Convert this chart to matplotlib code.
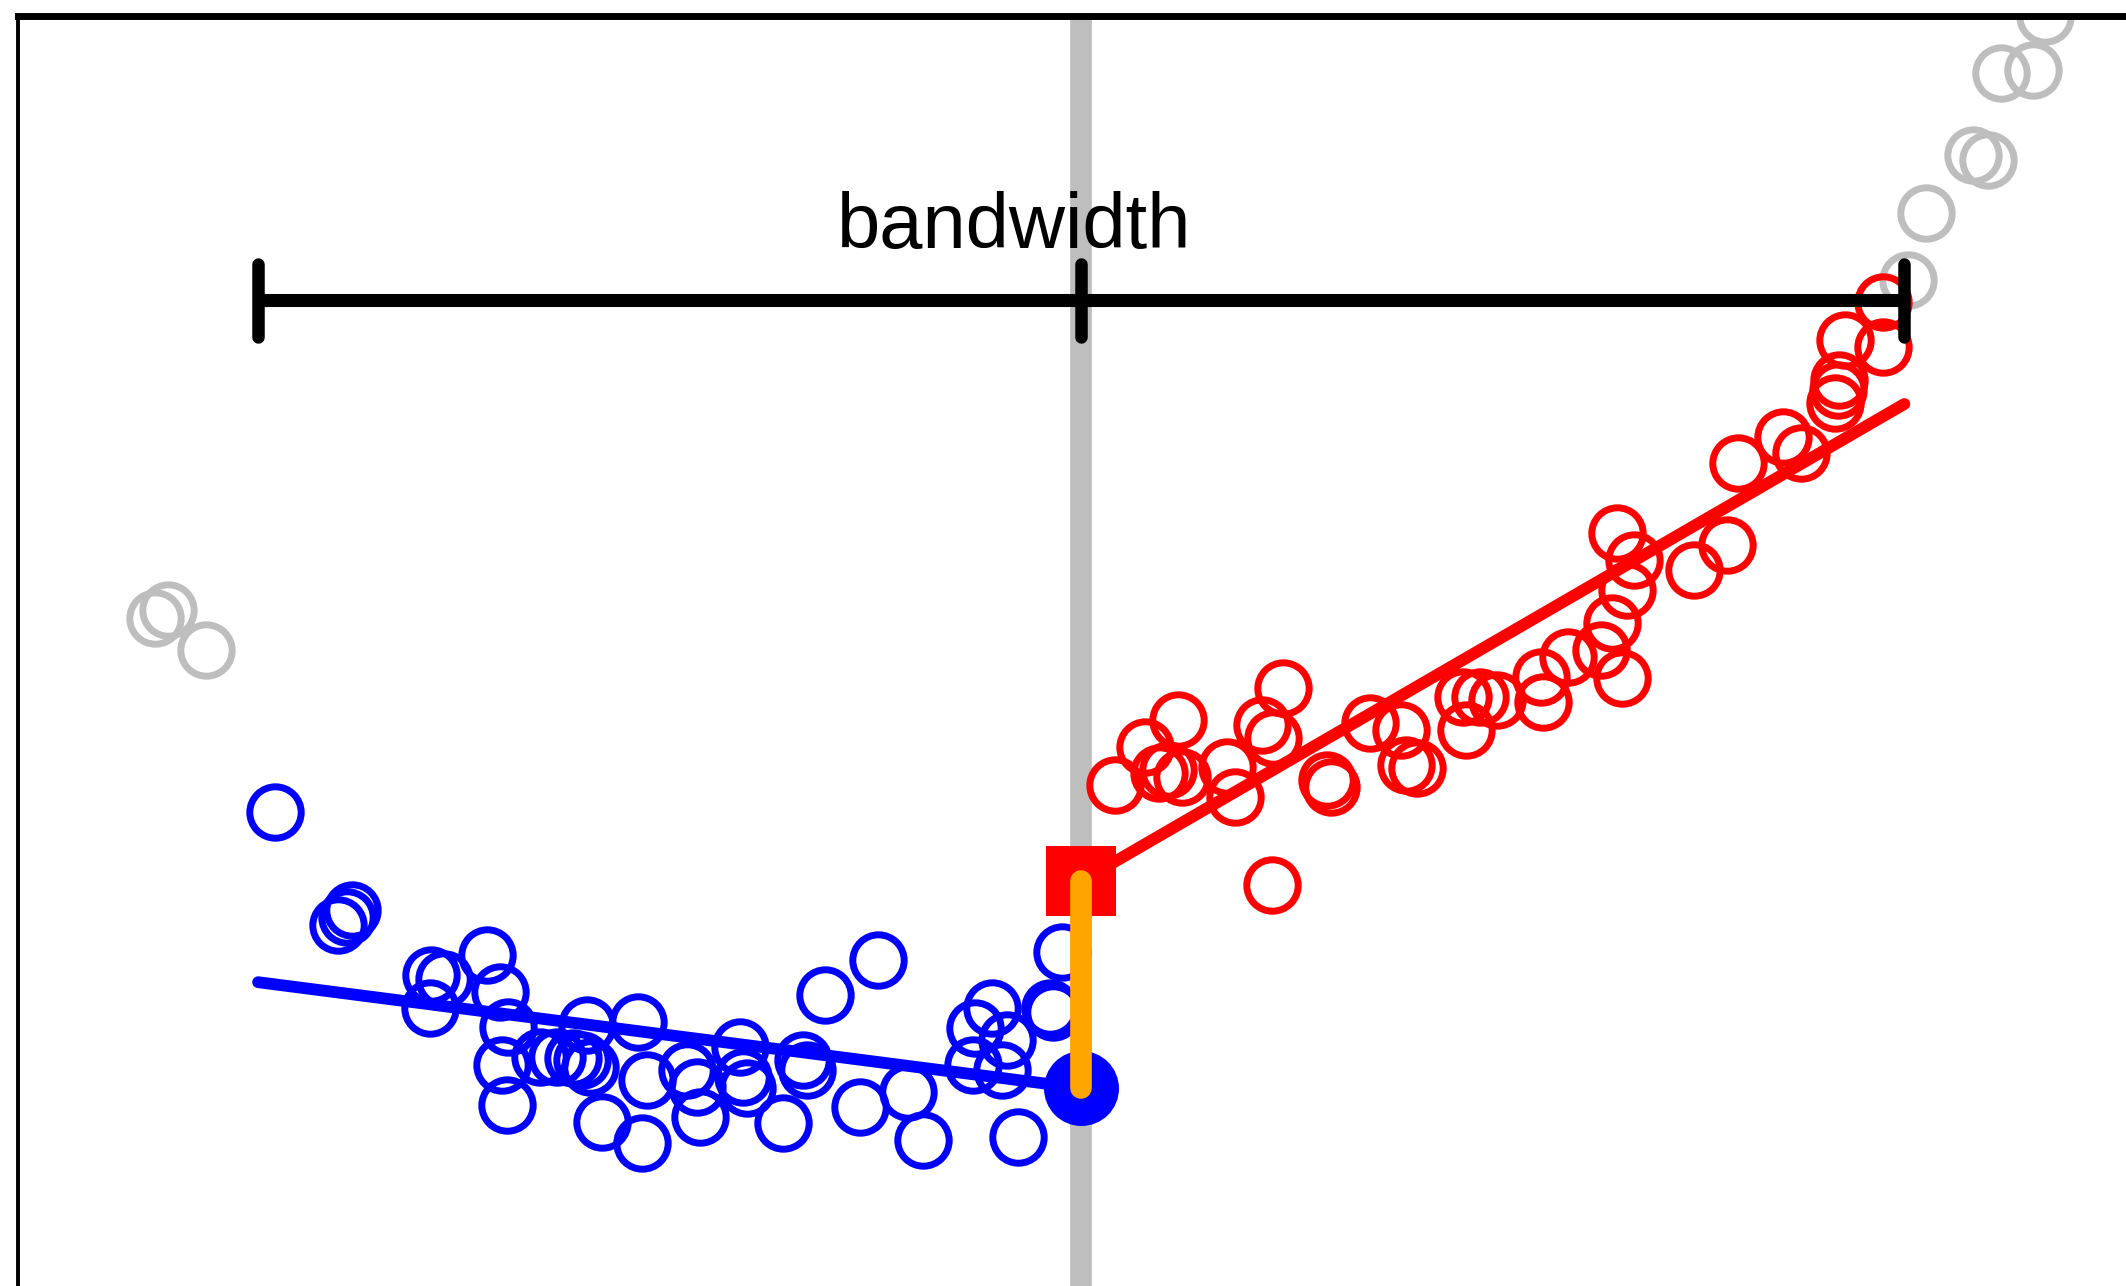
import matplotlib.pyplot as plt
import numpy as np

# running variable centred on the cutoff, bandwidth h = 1
cutoff = 0.0
h = 1.0

# observations outside the bandwidth
x_out = [-1.125, -1.109, -1.063, 1.005, 1.026, 1.084, 1.102, 1.117, 1.156, 1.171]
y_out = [1.830, 1.850, 1.750, 2.675, 2.843, 2.988, 2.975, 3.193, 3.200, 3.335]

# observations below the cutoff
x_left = [-0.979, -0.903, -0.892, -0.886, -0.790, -0.774, -0.791, -0.722, -0.706,
          -0.696, -0.704, -0.697, -0.657, -0.637, -0.618, -0.606, -0.597, -0.600,
          -0.539, -0.582, -0.533, -0.527, -0.479, -0.467, -0.463, -0.414, -0.411,
          -0.406, -0.362, -0.338, -0.333, -0.311, -0.247, -0.269, -0.210, -0.192,
          -0.023, -0.108, -0.129, -0.090, -0.132, -0.096, -0.038, -0.034, -0.077]
y_left = [1.345, 1.063, 1.083, 1.100, 0.938, 0.928, 0.855, 0.988, 0.895,
          0.808, 0.713, 0.613, 0.733, 0.733, 0.730, 0.725, 0.708, 0.813,
          0.820, 0.570, 0.518, 0.675, 0.700, 0.658, 0.583, 0.758, 0.683,
          0.655, 0.568, 0.725, 0.700, 0.888, 0.975, 0.608, 0.645, 0.525,
          0.995, 0.855, 0.805, 0.775, 0.713, 0.700, 0.855, 0.845, 0.533]

# observations above the cutoff
x_right = [0.041, 0.078, 0.117, 0.094, 0.106, 0.123, 0.177, 0.187, 0.220, 0.245,
           0.233, 0.299, 0.303, 0.351, 0.388, 0.394, 0.408, 0.232, 0.464, 0.485,
           0.505, 0.467, 0.558, 0.561, 0.591, 0.631, 0.657, 0.645, 0.663, 0.671,
           0.651, 0.744, 0.785, 0.798, 0.853, 0.874, 0.916, 0.919, 0.921, 0.928,
           0.974, 0.974]
y_right = [1.413, 1.508, 1.575, 1.443, 1.450, 1.433, 1.458, 1.383, 1.563, 1.655,
           1.530, 1.425, 1.408, 1.568, 1.550, 1.463, 1.455, 1.163, 1.633, 1.633,
           1.625, 1.550, 1.683, 1.620, 1.733, 1.750, 1.680, 1.818, 1.900, 1.975,
           2.043, 1.950, 2.013, 2.218, 2.283, 2.243, 2.368, 2.400, 2.425, 2.525,
           2.508, 2.620]

# local linear fits: value at the cutoff and at the bandwidth edge
fit_left = [0.920, 0.655]    # at -h, at cutoff
fit_right = [1.1725, 2.365]  # at cutoff, at +h

bar_y = 2.625
cap_lo, cap_hi = 2.533, 2.715

fig = plt.figure(figsize=(21.26, 12.86), dpi=100)
ax = fig.add_axes([0.00833, -0.05, 1.0417, 1.03733])
ax.set_xlim(-1.292, 1.3985)
ax.set_ylim(0, 3.334)
ax.set_xticks([])
ax.set_yticks([])
for side in ['left', 'top', 'right', 'bottom']:
    ax.spines[side].set_color('black')
ax.spines['left'].set_linewidth(2.8)
ax.spines['top'].set_linewidth(5)

ax.axvline(cutoff, color='#BEBEBE', lw=15.6, zorder=1)

circ = dict(ls='none', marker='o', ms=37, mfc='none', mew=5, zorder=2)
ax.plot(x_out, y_out, mec='#BEBEBE', **circ)
ax.plot(x_left, y_left, mec='blue', **circ)
ax.plot(x_right, y_right, mec='red', **circ)

ax.plot([cutoff - h, cutoff], fit_left, color='blue', lw=8.5,
        solid_capstyle='round', zorder=3)
ax.plot([cutoff, cutoff + h], fit_right, color='red', lw=8.5,
        solid_capstyle='round', zorder=3)

ax.plot(cutoff, fit_left[1], 'o', color='blue', ms=54, mew=0, zorder=4)
ax.plot(cutoff, fit_right[0], 's', color='red', ms=50, mew=0, zorder=4)

# estimated jump at the cutoff
ax.plot([cutoff, cutoff], [fit_left[1], fit_right[0]], color='orange',
        lw=15.6, solid_capstyle='round', zorder=5)

# bandwidth indicator
ax.plot([cutoff - h, cutoff + h], [bar_y, bar_y], color='black', lw=9.4,
        solid_capstyle='butt', zorder=6)
for xc in [cutoff - h, cutoff, cutoff + h]:
    ax.plot([xc, xc], [cap_lo, cap_hi], color='black', lw=9,
            solid_capstyle='round', zorder=6)
ax.text(-0.081, 2.755, 'bandwidth', ha='center', va='baseline',
        fontsize=56, family='Liberation Sans', zorder=6)

fig.savefig('out.png', dpi=100)
